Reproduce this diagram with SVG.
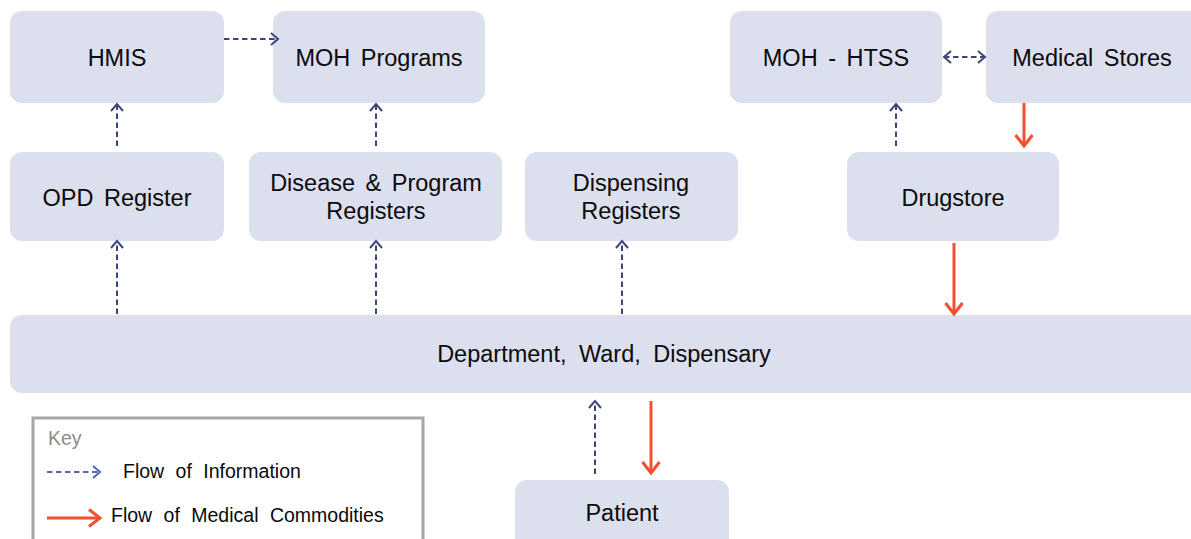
<svg xmlns="http://www.w3.org/2000/svg" width="1191" height="539" viewBox="0 0 1191 539">
<style>
.box{fill:#dcdfee;}
.t{font-family:"Liberation Sans",Arial,sans-serif;font-size:23.5px;fill:#0a0a0a;text-anchor:middle;word-spacing:4px;}
.info{fill:none;stroke:#3d467a;stroke-width:2;stroke-dasharray:5.5 3.5;}
.infok{fill:none;stroke:#5865b4;stroke-width:2;stroke-dasharray:5.5 3.5;}
.med{fill:none;stroke:#f0502f;stroke-width:3;}
.kt{font-family:"Liberation Sans",Arial,sans-serif;font-size:19.5px;fill:#0a0a0a;word-spacing:6px;}
</style>
<defs>
<marker id="ai" markerUnits="userSpaceOnUse" markerWidth="14" markerHeight="16" refX="9" refY="7" orient="auto-start-reverse" viewBox="0 0 14 16">
<path d="M2,1 L9,7 L2,13" fill="none" stroke="#3d467a" stroke-width="2"/>
</marker>
<marker id="aik" markerUnits="userSpaceOnUse" markerWidth="14" markerHeight="16" refX="9" refY="7" orient="auto" viewBox="0 0 14 16">
<path d="M2,1 L9,7 L2,13" fill="none" stroke="#5865b4" stroke-width="2"/>
</marker>
<marker id="am" markerUnits="userSpaceOnUse" markerWidth="16" markerHeight="22" refX="13" refY="10" orient="auto" viewBox="0 0 16 22">
<path d="M2,1.5 L13,10 L2,18.5" fill="none" stroke="#f0502f" stroke-width="3"/>
</marker>
</defs>

<g id="hmis"><rect class="box" x="10" y="11" width="214" height="92" rx="12"/><text class="t" x="117" y="66">HMIS</text></g>
<g id="moh-programs"><rect class="box" x="273" y="11" width="212" height="92" rx="12"/><text class="t" x="379" y="66">MOH Programs</text></g>
<g id="moh-htss"><rect class="box" x="730" y="11" width="212" height="92" rx="12"/><text class="t" x="836" y="66">MOH - HTSS</text></g>
<g id="medical-stores"><rect class="box" x="986" y="11" width="220" height="92" rx="12"/><text class="t" x="1092" y="66">Medical Stores</text></g>
<g id="opd-register"><rect class="box" x="10" y="152" width="214" height="89" rx="12"/><text class="t" x="117" y="206">OPD Register</text></g>
<g id="disease-registers"><rect class="box" x="249" y="152" width="253" height="89" rx="12"/><text class="t" x="376" y="191">Disease &amp; Program</text><text class="t" x="376" y="219">Registers</text></g>
<g id="dispensing-registers"><rect class="box" x="525" y="152" width="213" height="89" rx="12"/><text class="t" x="631" y="191">Dispensing</text><text class="t" x="631" y="219">Registers</text></g>
<g id="drugstore"><rect class="box" x="847" y="152" width="212" height="89" rx="12"/><text class="t" x="953" y="206">Drugstore</text></g>
<g id="department"><rect class="box" x="10" y="315" width="1200" height="78" rx="12"/><text class="t" x="604" y="362" style="word-spacing:6px">Department, Ward, Dispensary</text></g>
<g id="patient"><rect class="box" x="515" y="480" width="214" height="80" rx="12"/><text class="t" x="622" y="521">Patient</text></g>

<g id="connectors">
<line class="info" x1="224" y1="39" x2="278" y2="39" marker-end="url(#ai)"/>
<line class="info" x1="117" y1="146" x2="117" y2="104" marker-end="url(#ai)"/>
<line class="info" x1="376" y1="146" x2="376" y2="104" marker-end="url(#ai)"/>
<line class="info" x1="117" y1="314" x2="117" y2="241" marker-end="url(#ai)"/>
<line class="info" x1="376" y1="314" x2="376" y2="241" marker-end="url(#ai)"/>
<line class="info" x1="622" y1="314" x2="622" y2="241" marker-end="url(#ai)"/>
<line class="info" x1="896" y1="146" x2="896" y2="104" marker-end="url(#ai)"/>
<line class="info" x1="944" y1="57" x2="985" y2="57" marker-start="url(#ai)" marker-end="url(#ai)"/>
<line class="info" x1="595" y1="474" x2="595" y2="401" marker-end="url(#ai)"/>
<line class="med" x1="1024" y1="103" x2="1024" y2="146" marker-end="url(#am)"/>
<line class="med" x1="954" y1="243" x2="954" y2="314" marker-end="url(#am)"/>
<line class="med" x1="651" y1="401" x2="651" y2="473" marker-end="url(#am)"/>
</g>

<g id="key">
<rect x="33" y="418" width="390" height="140" fill="#fff" stroke="#a6a6a6" stroke-width="3"/>
<text x="48" y="445" style="font-family:'Liberation Sans',Arial,sans-serif;font-size:19.5px;fill:#8c8c8c">Key</text>
<line class="infok" x1="47" y1="472" x2="100" y2="472" marker-end="url(#aik)"/>
<text class="kt" x="123" y="478">Flow of Information</text>
<line class="med" x1="47" y1="518" x2="100" y2="518" marker-end="url(#am)"/>
<text class="kt" x="111" y="522">Flow of Medical Commodities</text>
</g>
</svg>
